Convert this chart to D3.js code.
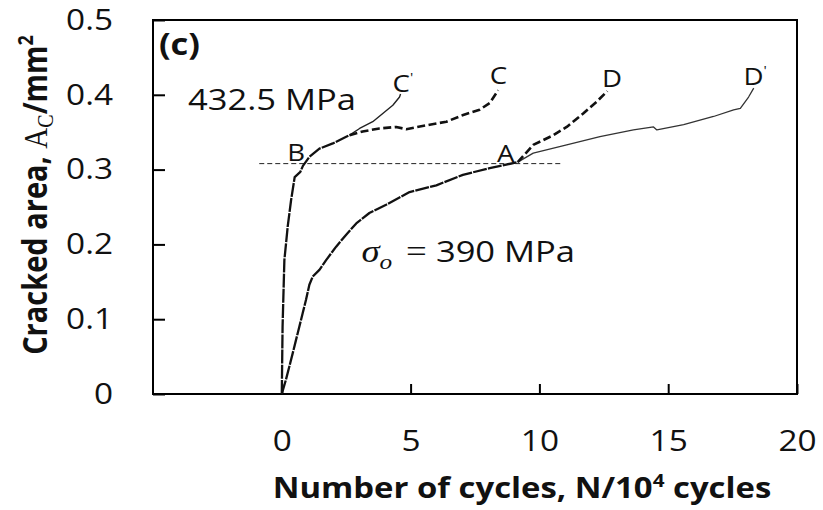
<!DOCTYPE html>
<html><head><meta charset="utf-8">
<script src="https://cdn.jsdelivr.net/npm/d3@7"></script>
<style>body{margin:0;background:#fff}</style>
</head><body>
<svg id="c" width="823" height="510"></svg>
<script>
// ---- data (N in 10^4 cycles, A in mm^2) ----
const N390 = [0, 0.16, 0.29, 0.42, 0.55, 0.68, 0.81, 0.94, 1.07, 1.20, 1.46, 1.72, 2.11, 2.50, 2.89, 3.40, 4.05, 4.96, 6.0, 7.03, 8.07, 9.16];
const A390 = [0, 0.019, 0.0365, 0.054, 0.072, 0.090, 0.108, 0.126, 0.146, 0.157, 0.166, 0.179, 0.197, 0.213, 0.228, 0.242, 0.253, 0.270, 0.279, 0.293, 0.302, 0.310];
const N_D  = [9.16, 9.76, 10.54, 11.06, 11.70, 12.23, 12.64];
const A_D  = [0.310, 0.333, 0.346, 0.357, 0.375, 0.391, 0.405];
const N_Dp = [9.16, 9.76, 11.06, 12.35, 13.65, 14.43, 14.56, 15.6, 16.76, 17.54, 17.80, 18.12, 18.32];
const A_Dp = [0.310, 0.322, 0.333, 0.344, 0.353, 0.357, 0.353, 0.360, 0.371, 0.380, 0.382, 0.397, 0.409];
const N432 = [0, 0.03, 0.10, 0.23, 0.36, 0.50, 0.72, 0.82, 1.07, 1.46, 1.98, 2.50, 2.63];
const A432 = [0, 0.090, 0.179, 0.224, 0.259, 0.290, 0.297, 0.305, 0.317, 0.328, 0.335, 0.344, 0.346];
const N_C  = [2.63, 3.14, 3.79, 4.44, 4.83, 5.74, 6.39, 7.04, 7.68, 8.07, 8.40];
const A_C  = [0.346, 0.351, 0.355, 0.357, 0.354, 0.360, 0.364, 0.373, 0.380, 0.389, 0.406];
const N_Cp = [2.63, 3.02, 3.53, 3.92, 4.31, 4.57, 4.61];
const A_Cp = [0.346, 0.355, 0.364, 0.375, 0.386, 0.397, 0.401];
const refN = [-0.875, 10.87];
const refA = [0.308, 0.308];
const xTicks = [0, 5, 10, 15, 20];
const yTicks = [0, 0.1, 0.2, 0.3, 0.4, 0.5];
const yTickLabels = ["0", "0.1", "0.2", "0.3", "0.4", "0.5"];

// ---- drawing ----
const svg = d3.select("#c");
const x = d3.scaleLinear().domain([-5, 20]).range([153, 797]);
const y = d3.scaleLinear().domain([0, 0.5]).range([394, 20]);
const SX = 1.15;
const FONT = "'Open Sans', sans-serif";
const SERIF = "'Liberation Serif', 'Times New Roman', serif";

const gx = svg.append("g").attr("transform", "translate(0,394)")
  .call(d3.axisBottom(x).tickValues(xTicks).tickSizeInner(-10).tickSizeOuter(0).tickPadding(36).tickFormat(d3.format("d")));
gx.select(".domain").remove();
gx.selectAll("line").attr("stroke", "#000").attr("stroke-width", 2);
gx.selectAll("text").attr("font-family", FONT).attr("font-size", 29).attr("fill", "#111")
  .attr("transform", `scale(${SX},1)`);

const gy = svg.append("g").attr("transform", "translate(153,0)")
  .call(d3.axisLeft(y).tickValues(yTicks).tickSizeInner(-12).tickSizeOuter(0).tickPadding(40)
    .tickFormat((d, i) => yTickLabels[i]));
gy.select(".domain").remove();
gy.selectAll("line").attr("stroke", "#000").attr("stroke-width", 2);
gy.selectAll("text").attr("font-family", FONT).attr("font-size", 29).attr("fill", "#111")
  .attr("x", -40 / SX).attr("transform", `scale(${SX},1)`);

svg.append("rect").attr("x", x(-5)).attr("y", y(0.5)).attr("width", x(20) - x(-5)).attr("height", y(0) - y(0.5))
  .attr("fill", "none").attr("stroke", "#000").attr("stroke-width", 2);

const line = d3.line().x(d => x(d[0])).y(d => y(d[1]));
function path(N, A, w, dash, col) {
  svg.append("path").datum(d3.zip(N, A)).attr("d", line).attr("fill", "none")
    .attr("stroke", col).attr("stroke-width", w).attr("stroke-dasharray", dash)
    .attr("stroke-linejoin", "round");
}
path(refN, refA, 1, "5,3", "#222");
path(N_Dp, A_Dp, 1.3, null, "#333");
path(N_Cp, A_Cp, 1.4, null, "#222");
path(N390, A390, 2.3, "14,1.2", "#111");
path(N432, A432, 2.3, "14,1.2", "#111");
path(N_D, A_D, 2.6, "8,3.5", "#111");
path(N_C, A_C, 2.6, "8,3.5", "#111");

function txt(nx, ay, size, weight) {
  return svg.append("text").attr("transform", `translate(${x(nx)},${y(ay)}) scale(${SX},1)`)
    .attr("font-family", FONT).attr("font-size", size).attr("font-weight", weight || 400).attr("fill", "#111");
}
txt(-4.77, 0.453, 30, 700).text("(c)");
txt(-3.64, 0.380, 30).text("432.5 MPa");
txt(0.21, 0.3115, 24).text("B");
txt(8.35, 0.310, 24).text("A");
txt(8.07, 0.415, 24).text("C");
txt(12.43, 0.410, 24).text("D");
let t = txt(4.30, 0.404, 24); t.append("tspan").text("C"); t.append("tspan").attr("font-size", 13).attr("dy", -10).text("'");
t = txt(17.92, 0.413, 24); t.append("tspan").text("D"); t.append("tspan").attr("font-size", 13).attr("dy", -10).text("'");

t = txt(3.09, 0.176, 30);
t.append("tspan").attr("font-family", SERIF).attr("font-style", "italic").attr("font-size", 32).text("σ");
t.append("tspan").attr("font-family", SERIF).attr("font-style", "italic").attr("font-size", 22).attr("dy", 7).text("o");
t.append("tspan").attr("font-family", SERIF).attr("font-size", 32).attr("dy", -7).attr("dx", 12).text("=");
t.append("tspan").attr("dx", 8).text("390 MPa");

// x title
t = svg.append("text").attr("transform", `translate(522,498) scale(${SX},1)`).attr("text-anchor", "middle")
  .attr("font-family", FONT).attr("font-weight", 700).attr("font-size", 28.6).attr("fill", "#111");
t.append("tspan").text("Number of cycles, N/10");
t.append("tspan").attr("font-size", 18).attr("dy", -11).text("4");
t.append("tspan").attr("dy", 11).text(" cycles");

// y title
t = svg.append("text").attr("transform", `translate(47,195) rotate(-90) scale(1,${SX})`).attr("text-anchor", "middle")
  .attr("font-family", FONT).attr("font-weight", 700).attr("font-size", 29).attr("fill", "#111");
t.append("tspan").text("Cracked area, ");
t.append("tspan").attr("font-family", SERIF).attr("font-weight", 400).text("A");
t.append("tspan").attr("font-family", SERIF).attr("font-weight", 400).attr("font-size", 20).attr("dy", 5).text("C");
t.append("tspan").attr("dy", -5).text("/mm");
t.append("tspan").attr("font-size", 18).attr("dy", -12).text("2");
</script>
</body></html>
